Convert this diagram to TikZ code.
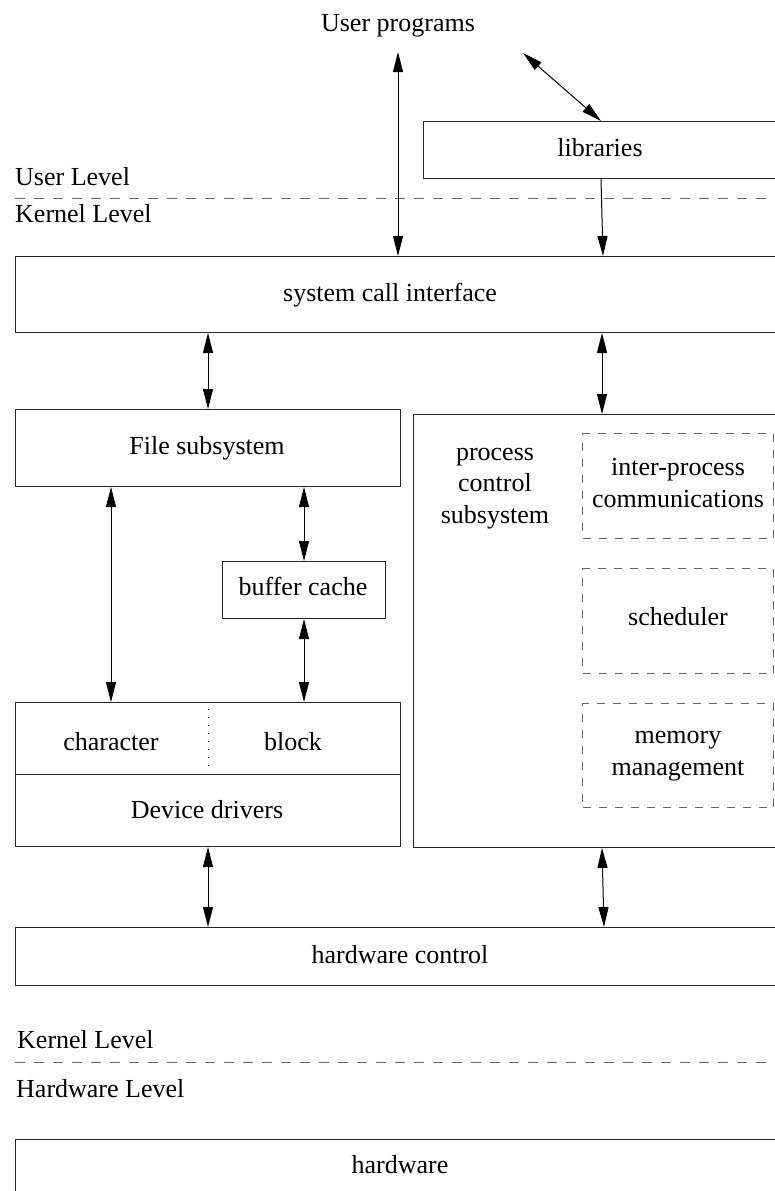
\documentclass[tikz,border=0pt]{standalone}
\usepackage{fontspec}
\setmainfont{Liberation Serif}
\usetikzlibrary{arrows.meta,calc}
\begin{document}
\begin{tikzpicture}[x=1pt,y=-1pt,
  box/.style={draw=black!85, line width=1pt, inner sep=0pt, anchor=north west},
  dashbox/.style={draw=black!60, line width=1pt, dash pattern=on 8pt off 8pt, inner sep=0pt, anchor=north west, minimum width=191pt},
  lbl/.style={inner sep=0pt, font=\fontsize{26}{31.5}\selectfont, anchor=base},
  lblw/.style={lbl, anchor=base west},
  mlbl/.style={lbl, align=center},
  levelline/.style={draw=black!60, line width=1pt, dash pattern=on 10pt off 9pt},
  biarrow/.style={{Triangle[length=20pt,width=10pt]}-{Triangle[length=20pt,width=10pt]}, line width=1pt},
  onearrow/.style={-{Triangle[length=20pt,width=10pt]}, line width=1pt},
]
\useasboundingbox (0,0) rectangle (775,1191);
\clip (0,0) rectangle (775,1191);

% boxes
\node[box, minimum width=400pt, minimum height=57pt] (lib) at (423,121) {};
\node[box, minimum width=800pt, minimum height=76pt] (sys) at (15,256) {};
\node[box, minimum width=385pt, minimum height=77pt] (file) at (15,409) {};
\node[box, minimum width=400pt, minimum height=433pt] (proc) at (413,414) {};
\node[box, minimum width=163pt, minimum height=57pt] (buf) at (222,561) {};
\node[box, minimum width=385pt, minimum height=144pt] (dev) at (15,702) {};
\node[box, minimum width=800pt, minimum height=58pt] (hwc) at (15,927) {};
\node[box, minimum width=800pt, minimum height=100pt] (hw) at (15,1139) {};
\node[dashbox, minimum height=105pt] (ipc) at (582,433) {};
\node[dashbox, minimum height=105pt] (sched) at (582,568) {};
\node[dashbox, minimum height=104pt] (mem) at (582,703) {};

% device driver divisions
\draw[draw=black!85, line width=1pt] ($(dev.north west)+(0,72)$) -- ($(dev.north east)+(0,72)$);
\draw[line width=1pt, dash pattern=on 1pt off 7pt] ($(dev.north)+(0,7)$) -- ($(dev.north)+(0,66)$);

% level lines
\draw[levelline] (15,198) -- (790,198);
\draw[levelline] (15,1062) -- (790,1062);

% texts
\node[lbl] (up) at (398,31) {User programs};
\node[lbl] (libt) at (600,156) {libraries};
\node[lblw] (ul) at (15,185) {User Level};
\node[lblw] (kl) at (15,222) {Kernel Level};
\node[lbl] (syst) at (390,301) {system call interface};
\node[lbl] (filet) at (207,454) {File subsystem};
\node[lbl] (buft) at (303,595) {buffer cache};
\node[lbl] (chart) at (111,750) {character};
\node[lbl] (blockt) at (293,750) {block};
\node[lbl] (devt) at (207,818) {Device drivers};
\node[mlbl] (proct) at (495,523) {process\\control\\subsystem};
\node[mlbl] (ipct) at (678,507) {inter-process\\communications};
\node[lbl] (schedt) at (678,625) {scheduler};
\node[mlbl] (memt) at (678,775) {memory\\management};
\node[lbl] (hwct) at (400,963) {hardware control};
\node[lblw] (kl2) at (17,1048) {Kernel Level};
\node[lblw] (hl) at (16,1097) {Hardware Level};
\node[lbl] (hwt) at (400,1173) {hardware};

% connectors
\coordinate (uptip) at (398,52);
\coordinate (upd) at (523,53);
\draw[biarrow] (uptip) -- (398,0 |- sys.north);
\draw[biarrow] (upd) -- ($(lib.north west)+(178,0)$);
\draw[onearrow] ($(lib.south west)+(178,0)$) -- ($(sys.north west)+(588,0)$);
\draw[biarrow] (sys.south -| file.north) -- (file.north);
\draw[biarrow] ($(sys.south west)+(587,0)$) -- ($(proc.north west)+(189,0)$);
\draw[biarrow] (111,0 |- file.south) -- (111,0 |- dev.north);
\draw[biarrow] (file.south -| buf.north) -- (buf.north);
\draw[biarrow] (buf.south) -- (buf.south |- dev.north);
\draw[biarrow] (dev.south) -- (dev.south |- hwc.north);
\draw[biarrow] ($(proc.south west)+(189,0)$) -- ($(hwc.north west)+(589,0)$);
\end{tikzpicture}
\end{document}
